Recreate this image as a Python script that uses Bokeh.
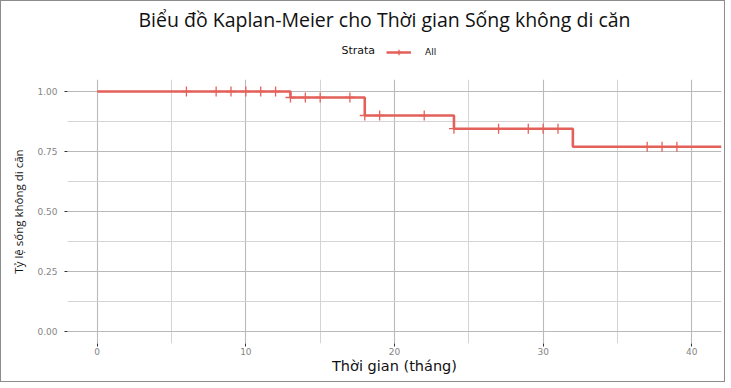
from bokeh.plotting import figure
from bokeh.layouts import column
from bokeh.models import (FixedTicker, Legend, LegendItem, NumeralTickFormatter, Range1d, Label)
from bokeh.embed import file_html
from bokeh.resources import INLINE

# Kaplan-Meier step curve (time in months, survival proportion)
step_times = [0, 13, 18, 24, 32, 42]
step_surv = [1.00, 0.975, 0.90, 0.845, 0.77, 0.77]

# censored observations
censor_times = [6, 8, 9, 10, 11, 12, 13, 14, 15, 17, 18, 19, 22, 24, 27, 29, 30, 31, 37, 38, 39]
censor_surv = [1.00, 1.00, 1.00, 1.00, 1.00, 1.00, 0.975, 0.975, 0.975, 0.975, 0.90, 0.90, 0.90,
               0.845, 0.845, 0.845, 0.845, 0.845, 0.77, 0.77, 0.77]

x_ticks = [0, 10, 20, 30, 40]
y_ticks = [0.0, 0.25, 0.5, 0.75, 1.0]

RED = "#E4605A"
W = 723

# ---- header: title + legend (its frame is aligned with the main frame) ----
head = figure(width=W, height=78, output_backend="svg", toolbar_location=None,
              x_range=Range1d(67, 721), y_range=Range1d(0, 78), x_axis_type=None, y_axis_type=None,
              min_border=0, background_fill_color="white", border_fill_color="white")
head.outline_line_color = None
head.grid.visible = False
head.add_layout(Label(x=384, y=60, text="Biểu đồ Kaplan-Meier cho Thời gian Sống không di căn",
                      text_font="Open Sans", text_font_size="19.5px", text_align="center",
                      text_baseline="middle", text_color="#111111"))
head.add_layout(Label(x=341, y=29, text="Strata", text_font="DejaVu Sans", text_font_size="11px",
                      text_baseline="middle", text_color="#111111"))
# legend proxies (hidden renderers carrying the series style)
h_line = head.line(step_times, step_surv, line_color=RED, line_width=2.5, visible=False)
h_cens = head.scatter(censor_times, censor_surv, marker="cross", size=10, line_color=RED,
                      line_width=1.3, visible=False)
legend = Legend(items=[LegendItem(label="All", renderers=[h_line, h_cens])],
                orientation="horizontal", location=(319, 20),
                label_text_font="DejaVu Sans", label_text_font_size="9px",
                label_text_color="#111111", inactive_fill_alpha=0,
                border_line_color=None, background_fill_alpha=0, glyph_width=25, glyph_height=14,
                padding=2, margin=0, label_standoff=14)
head.add_layout(legend, "center")

# ---- main panel ----
p = figure(width=W, height=302, output_backend="svg", toolbar_location=None,
           x_range=Range1d(-2.0, 42.0), y_range=Range1d(-0.05, 1.05),
           min_border_left=66, min_border_right=3, min_border_bottom=38, min_border_top=0,
           background_fill_color="white", border_fill_color="white")
p.outline_line_color = None

p.step(step_times, step_surv, mode="after", line_color=RED, line_width=2.6)
p.scatter(censor_times, censor_surv, marker="cross", size=10, line_color=RED, line_width=1.3)

p.xaxis.ticker = FixedTicker(ticks=x_ticks, minor_ticks=[5, 15, 25, 35])
p.yaxis.ticker = FixedTicker(ticks=y_ticks, minor_ticks=[0.125, 0.375, 0.625, 0.875])
p.yaxis.formatter = NumeralTickFormatter(format="0.00")

for ax in (p.xaxis, p.yaxis):
    ax.axis_line_color = None
    ax.major_tick_line_color = "#333333"
    ax.major_tick_in = 0
    ax.major_tick_out = 3
    ax.minor_tick_line_color = None
    ax.major_label_text_font = "DejaVu Sans"
    ax.major_label_text_font_size = "9px"
    ax.major_label_text_color = "#858585"
    ax.axis_label_text_font_style = "normal"
    ax.axis_label_text_color = "#111111"

p.xaxis.axis_label = "Thời gian (tháng)"
p.xaxis.axis_label_text_font = "DejaVu Sans"
p.xaxis.axis_label_text_font_size = "14.5px"
p.xaxis.axis_label_standoff = 0
p.xaxis.major_label_standoff = 0

p.yaxis.axis_label = "Tỷ lệ sống không di căn"
p.yaxis.axis_label_text_font = "Open Sans"
p.yaxis.axis_label_text_font_size = "11.5px"
p.yaxis.axis_label_standoff = 8
p.yaxis.major_label_standoff = 6

p.xgrid.grid_line_color = "#bababa"
p.ygrid.grid_line_color = "#bababa"
p.xgrid.grid_line_width = 1.1
p.ygrid.grid_line_width = 1.1
p.xgrid.minor_grid_line_color = "#d4d4d4"
p.ygrid.minor_grid_line_color = "#d4d4d4"

layout = column(head, p, spacing=0)
layout.styles = {"border": "1px solid #8c8c8c"}

open("out.html", "w").write(file_html(layout, INLINE))
